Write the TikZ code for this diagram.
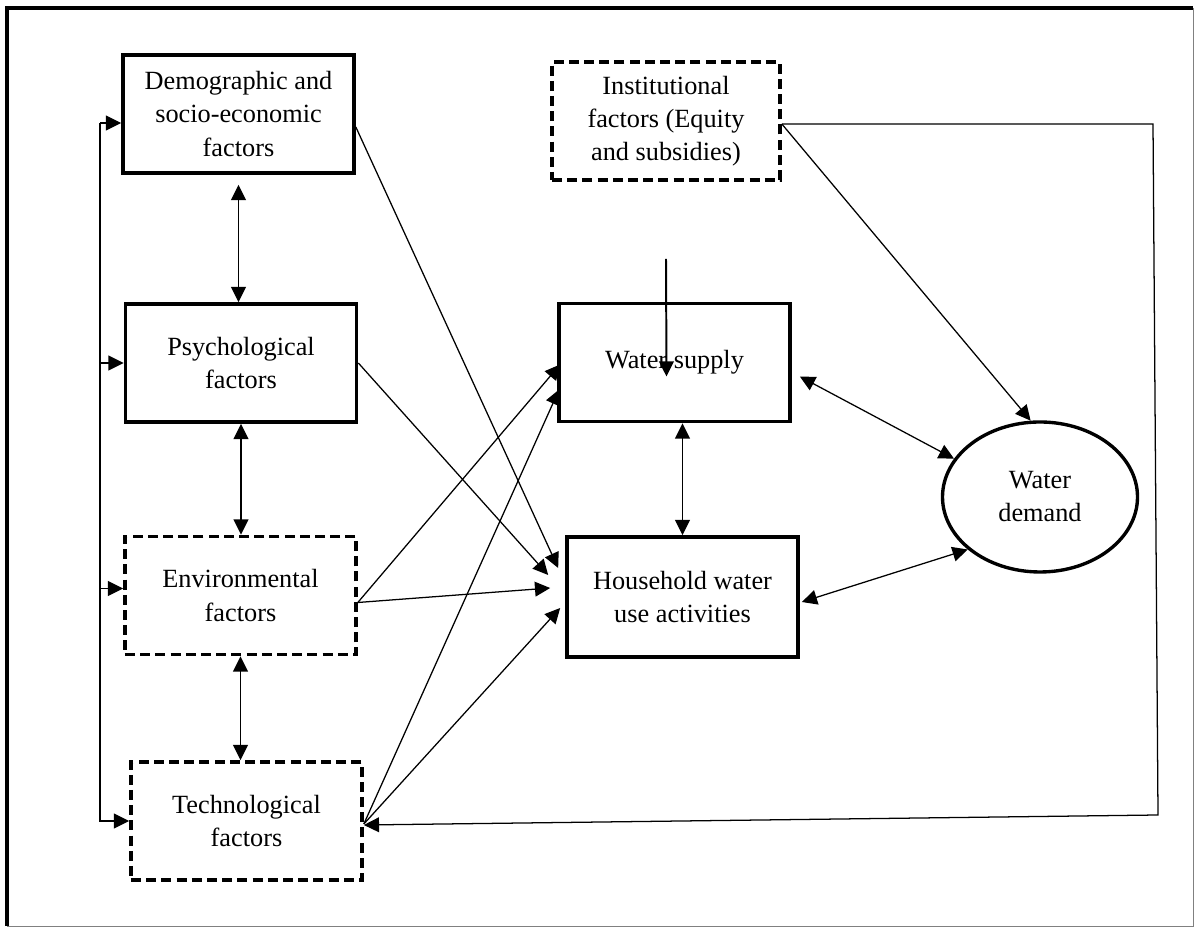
\documentclass[tikz,border=0pt]{standalone}
\usepackage{fontspec}
\setmainfont{Liberation Serif}
\usepackage{tikz}
\usetikzlibrary{shapes,arrows.meta,positioning,calc}
\tikzstyle{factorbox}=[rectangle, draw, align=center, line width=2.6pt, minimum width=57.75mm, minimum height=29.5mm]
\tikzstyle{dashbox}=[factorbox, dash pattern=on 2.5mm off 1.3mm]
\tikzstyle{demandoval}=[ellipse, draw, align=center, line width=2.4pt, minimum width=48.75mm, minimum height=37.5mm]
\tikzstyle{arr}=[-{Triangle[length=3.8mm,width=3.7mm]}, line width=0.9pt]
\tikzstyle{dbl}=[{Triangle[length=3.8mm,width=3.7mm]}-{Triangle[length=3.8mm,width=3.7mm]}, line width=0.9pt]

\begin{document}
\begin{tikzpicture}[x=0.25mm, y=0.25mm, every node/.style = {font=\fontsize{18.7}{23.5}\selectfont}]
\useasboundingbox (0,0) rectangle (1196,928);

% frame
\draw[line width=2.2pt] (7,2) -- (7,920) -- (1193,920);
\draw[gray, line width=0.7pt] (1193,920) -- (1193,2) -- (7,2);

\node[factorbox](demo) at (238.5,814) {Demographic and \\ socio-economic \\ factors};
\node[factorbox](psych) at (241,565) {Psychological \\ factors};
\node[dashbox](env) at (240.5,332.5) {Environmental \\ factors};
\node[dashbox](tech) at (246.5,107) {Technological \\ factors};
\node[dashbox, minimum width=57mm](inst) at (666,807) {Institutional \\ factors (Equity \\ and subsidies)};
\node[factorbox](ws) at (674.5,565.5) {Water supply};
\node[factorbox, minimum height=30mm](hh) at (682.5,331) {Household water \\ use activities};
\node[demandoval](wd) at (1040,431) {Water \\ demand};

\coordinate (bus) at (100,805);
\coordinate (wsin) at (666,669);
\coordinate (cornerA) at (1153,804);
\coordinate (cornerB) at (1158,113);

% feedback bus on the left
\draw[arr](bus) -- (demo.west |- bus);
\draw[arr](bus |- psych.west) -- (psych.west);
\draw[arr]($(bus |- env.west)+(0,7)$) -- ($(env.west)+(0,7)$);
\draw[arr](bus) |- (tech.west);

% between the factors
\draw[dbl, shorten <=2.5mm](demo.south) -- (demo.south |- psych.north);
\draw[dbl](psych.south) -- (psych.south |- env.north);
\draw[dbl](env.south) -- (env.south |- tech.north);

% factors to household use
\draw[arr]($(demo.east)+(0,-13)$) -- ($(hh.west)+(-7,29)$);
\draw[arr](psych.east) -- ($(hh.west)+(-17,22)$);
\draw[arr]($(env.east)+(0,-7)$) -- ($(hh.west)+(-15,9)$);
\draw[arr]($(tech.east)+(0,-3)$) -- ($(hh.west)+(-5,-11)$);

% factors to water supply
\draw[arr]($(env.east)+(0,-7)$) -- ($(ws.west)+(3,-2)$);
\draw[arr]($(tech.east)+(0,-3)$) -- ($(ws.west)+(2,-27)$);
\draw[arr, line width=1.4pt](wsin) -- ($(ws.center)+(-8,-14)$);

% supply, use and demand
\draw[dbl](hh.north |- ws.south) -- (hh.north);
\draw[dbl]($(ws.east)+(8,-14)$) -- (wd.156);
\draw[dbl]($(hh.east)+(2,-5)$) -- (wd.216);

% institutional factors
\draw[arr]($(inst.east)+(0,-3)$) -- (wd.97);
\draw[arr]($(inst.east)+(0,-3)$) -- (cornerA) -- (cornerB) -- ($(tech.east)+(0,-4)$);

\end{tikzpicture}
\end{document}
